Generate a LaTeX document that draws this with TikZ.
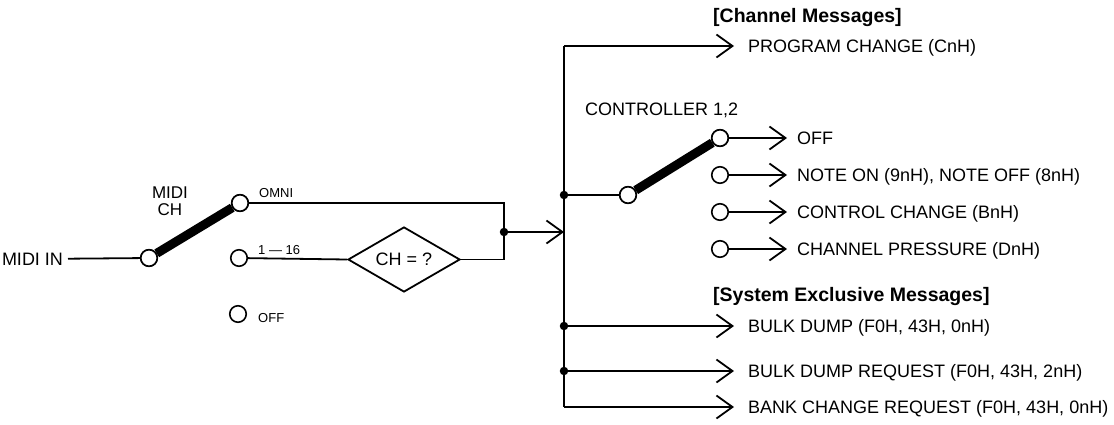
\documentclass[tikz,border=0pt]{standalone}
\usepackage{fontspec}
\setmainfont{Liberation Sans}
\usetikzlibrary{arrows.meta,shapes.geometric}
\begin{document}
\begin{tikzpicture}[x=1pt,y=-1pt,
  wire/.style={line width=1.8pt},
  arr/.style={wire,-{Straight Barb[length=16pt,width=23pt,line width=1.8pt]}},
  term/.style={circle,draw,fill=white,line width=1.6pt,minimum size=16.5pt,inner sep=0pt},
  jdot/.style={circle,fill=black,minimum size=8.5pt,inner sep=0pt},
  lbl/.style={anchor=west,inner sep=0pt,font=\fontsize{18}{20}\selectfont,text height=13pt,text depth=0pt},
  hdr/.style={anchor=west,inner sep=0pt,font=\fontsize{19.5}{21}\selectfont\bfseries,text height=14pt,text depth=0pt},
  small/.style={anchor=west,inner sep=0pt,font=\fontsize{13}{14}\selectfont,text height=9.5pt,text depth=0pt},
  swbar/.style={line width=9pt}
]
\useasboundingbox (0,0) rectangle (1114,424);

% ---------- left: MIDI channel switch ----------
\node[lbl,anchor=east,outer sep=5pt] (midiin) at (68,259) {MIDI IN};
\node[term] (c0) at (149,258) {};
\node[term] (c1) at (240,203) {};
\node[term] (c2) at (239,258) {};
\node[term] (c3) at (238,314) {};
\node[align=center,inner sep=0pt,font=\fontsize{17}{17}\selectfont] (midich) at (170,201) {MIDI\\CH};
\node[small] (omni) at (259,193) {OMNI};
\node[small] (ch16) at (258,250) {1 — 16};
\node[small] (offl) at (258,318) {OFF};
\node[diamond,draw,line width=1.8pt,minimum width=112pt,minimum height=65pt,aspect=1.72,inner sep=0pt,
      font=\fontsize{18}{20}\selectfont] (dia) at (404,259.5) {CH = ?};

\coordinate (jtop) at (504,203);
\coordinate (jbot) at (504,259.5);
\coordinate (bus) at (564,232);

\draw[wire] (midiin) -- (c0);
\draw[swbar] (c0) -- (c1);
\draw[wire] (c1) -- (jtop) -- (jbot) -- (dia.east);
\draw[wire] (c2) -- (dia.west);
\node[jdot] (jin) at (504,232) {};
\draw[arr] (jin.center) -- (bus);
\node[term] at (c0) {};
\node[term] at (c1) {};

% ---------- right: bus ----------
\coordinate (btop) at (564,46);
\coordinate (bbot) at (564,407);
\node[jdot] (jctl) at (564,195) {};
\node[jdot] (jbd) at (564,326) {};
\node[jdot] (jbr) at (564,371) {};
\draw[wire] (btop) -- (bbot);

\node[hdr] (hch) at (713,15) {[Channel Messages]};
\node[lbl] (tpc) at (748,46) {PROGRAM CHANGE (CnH)};
\coordinate (apc) at (734,46);
\draw[arr] (btop) -- (apc);

\node[lbl] (tctl) at (585,109) {CONTROLLER 1,2};
\node[term] (cc) at (628,195) {};
\node[term] (k1) at (720,138) {};
\node[term] (k2) at (720,175) {};
\node[term] (k3) at (720,212) {};
\node[term] (k4) at (720,249) {};
\draw[wire] (jctl.center) -- (cc);
\draw[swbar] (cc) -- (k1);
\node[term] at (cc) {};
\node[term] at (k1) {};

\coordinate (a1) at (787,138);
\coordinate (a2) at (787,175);
\coordinate (a3) at (787,212);
\coordinate (a4) at (787,249);
\draw[arr] (k1) -- (a1);
\draw[arr] (k2) -- (a2);
\draw[arr] (k3) -- (a3);
\draw[arr] (k4) -- (a4);
\node[lbl] (t1) at (797,138) {OFF};
\node[lbl] (t2) at (797,175) {NOTE ON (9nH), NOTE OFF (8nH)};
\node[lbl] (t3) at (797,212) {CONTROL CHANGE (BnH)};
\node[lbl] (t4) at (797,249) {CHANNEL PRESSURE (DnH)};

\node[hdr] (hsx) at (713,294) {[System Exclusive Messages]};
\coordinate (abd) at (734,326);
\coordinate (abr) at (734,371);
\coordinate (abk) at (734,407);
\draw[arr] (jbd.center) -- (abd);
\draw[arr] (jbr.center) -- (abr);
\draw[arr] (bbot) -- (abk);
\node[lbl] (tbd) at (748,326) {BULK DUMP (F0H, 43H, 0nH)};
\node[lbl] (tbr) at (748,371) {BULK DUMP REQUEST (F0H, 43H, 2nH)};
\node[lbl] (tbk) at (748,407) {BANK CHANGE REQUEST (F0H, 43H, 0nH)};
\end{tikzpicture}
\end{document}
